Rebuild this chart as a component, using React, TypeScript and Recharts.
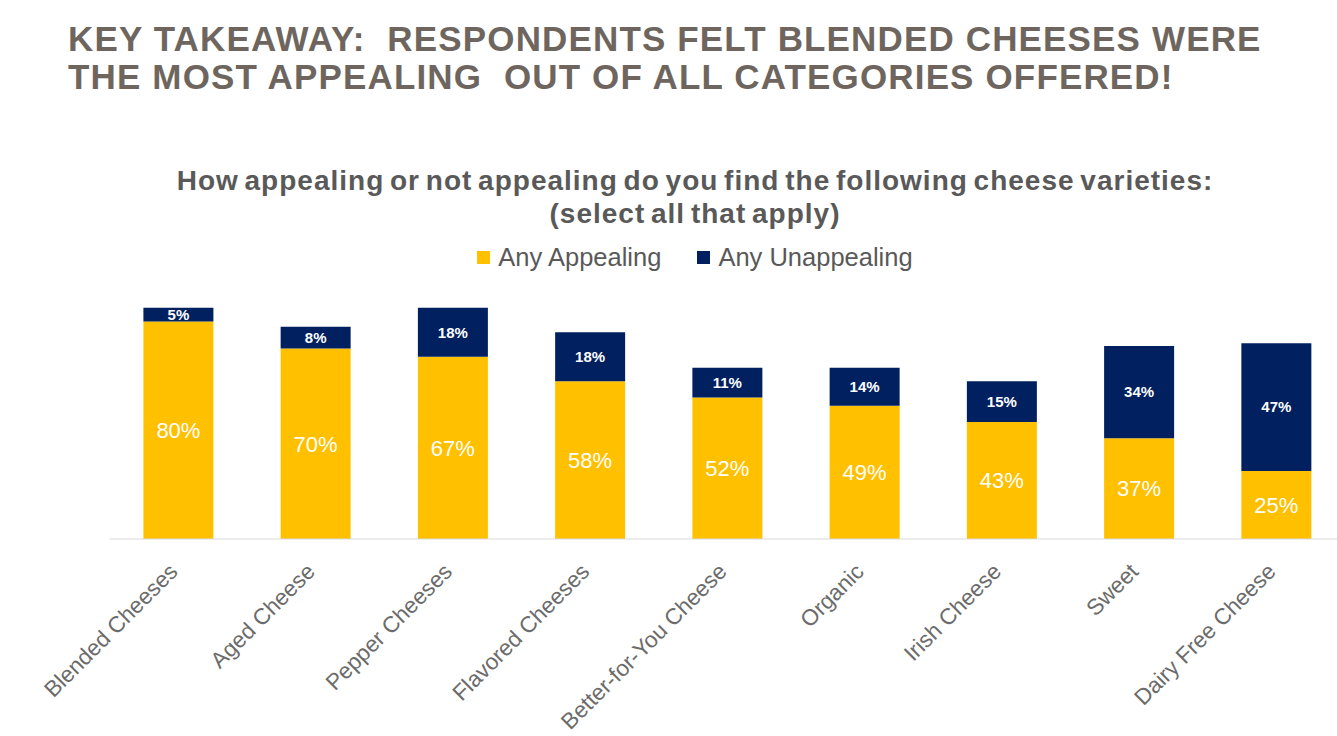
import { BarChart, Bar, XAxis, YAxis, Legend, LabelList } from "recharts"

const categories = [
  "Blended Cheeses",
  "Aged Cheese",
  "Pepper Cheeses",
  "Flavored Cheeses",
  "Better-for-You Cheese",
  "Organic",
  "Irish Cheese",
  "Sweet",
  "Dairy Free Cheese"
]
const appealing = [80, 70, 67, 58, 52, 49, 43, 37, 25]
const unappealing = [5, 8, 18, 18, 11, 14, 15, 34, 47]

const seriesNames = ["Any Appealing", "Any Unappealing"]
const YELLOW = "#FFC000"
const NAVY = "#002060"
const FONT = "'Liberation Sans', Arial, sans-serif"

const data = categories.map((name, i) => ({
  name,
  appealing: appealing[i],
  unappealing: unappealing[i]
}))

const AngledTick = ({ x, y, payload }: any) => (
  <g transform={`translate(${x + 1},${y + 26})`}>
    <text
      transform="rotate(-45)"
      textAnchor="end"
      fill="#6b6b6b"
      fontSize={22.5}
      fontFamily={FONT}
    >
      {payload.value}
    </text>
  </g>
)

const LegendContent = () => (
  <div style={{ display: "flex", justifyContent: "center", fontFamily: FONT, fontSize: 25.5, color: "#595959" }}>
    {seriesNames.map((n, i) => (
      <div key={n} style={{ display: "flex", alignItems: "center", marginRight: i === 0 ? 36 : 0 }}>
        <span style={{ width: 13, height: 13, background: i === 0 ? YELLOW : NAVY, marginRight: 8, display: "inline-block" }} />
        <span>{n}</span>
      </div>
    ))}
  </div>
)

export default function App() {
  return (
    <div style={{ position: "fixed", left: 0, top: 0, width: 1337, height: 736, overflow: "hidden", background: "#fff" }}>
      <div
        style={{
          position: "absolute",
          left: 68,
          top: 20,
          fontFamily: FONT,
          fontWeight: 700,
          fontSize: 35,
          lineHeight: "38px",
          letterSpacing: 1.15,
          color: "#6E665E",
          whiteSpace: "pre"
        }}
      >
        {"KEY TAKEAWAY:  RESPONDENTS FELT BLENDED CHEESES WERE\nTHE MOST APPEALING  OUT OF ALL CATEGORIES OFFERED!"}
      </div>
      <div
        style={{
          position: "absolute",
          left: 0,
          width: 1390,
          top: 164,
          textAlign: "center",
          fontFamily: FONT,
          fontWeight: 700,
          fontSize: 28,
          lineHeight: "33px",
          color: "#595959",
          letterSpacing: 1,
          wordSpacing: -3
        }}
      >
        How appealing or not appealing do you find the following cheese varieties:
        <br />
        (select all that apply)
      </div>
      <BarChart
        width={1360}
        height={736}
        data={data}
        barSize={70}
        margin={{ top: 267, right: 15.4, bottom: 7, left: 109.4 }}
      >
        <XAxis
          dataKey="name"
          interval={0}
          tickLine={false}
          axisLine={{ stroke: "#d9d9d9", strokeWidth: 1 }}
          tick={<AngledTick />}
          height={190}
        />
        <YAxis hide domain={[0, 100]} />
        <Legend
          verticalAlign="middle"
          align="center"
          content={<LegendContent />}
          wrapperStyle={{ top: 243, left: 0, width: 1390 }}
        />
        <Bar dataKey="appealing" stackId="a" fill={YELLOW} isAnimationActive={false}>
          <LabelList
            dataKey="appealing"
            position="center"
            formatter={(v: any) => `${v}%`}
            fill="#ffffff"
            fontSize={22}
            fontFamily={FONT}
          />
        </Bar>
        <Bar dataKey="unappealing" stackId="a" fill={NAVY} isAnimationActive={false}>
          <LabelList
            dataKey="unappealing"
            position="center"
            formatter={(v: any) => `${v}%`}
            fill="#ffffff"
            fontSize={15}
            fontWeight={700}
            fontFamily={FONT}
          />
        </Bar>
      </BarChart>
    </div>
  )
}
